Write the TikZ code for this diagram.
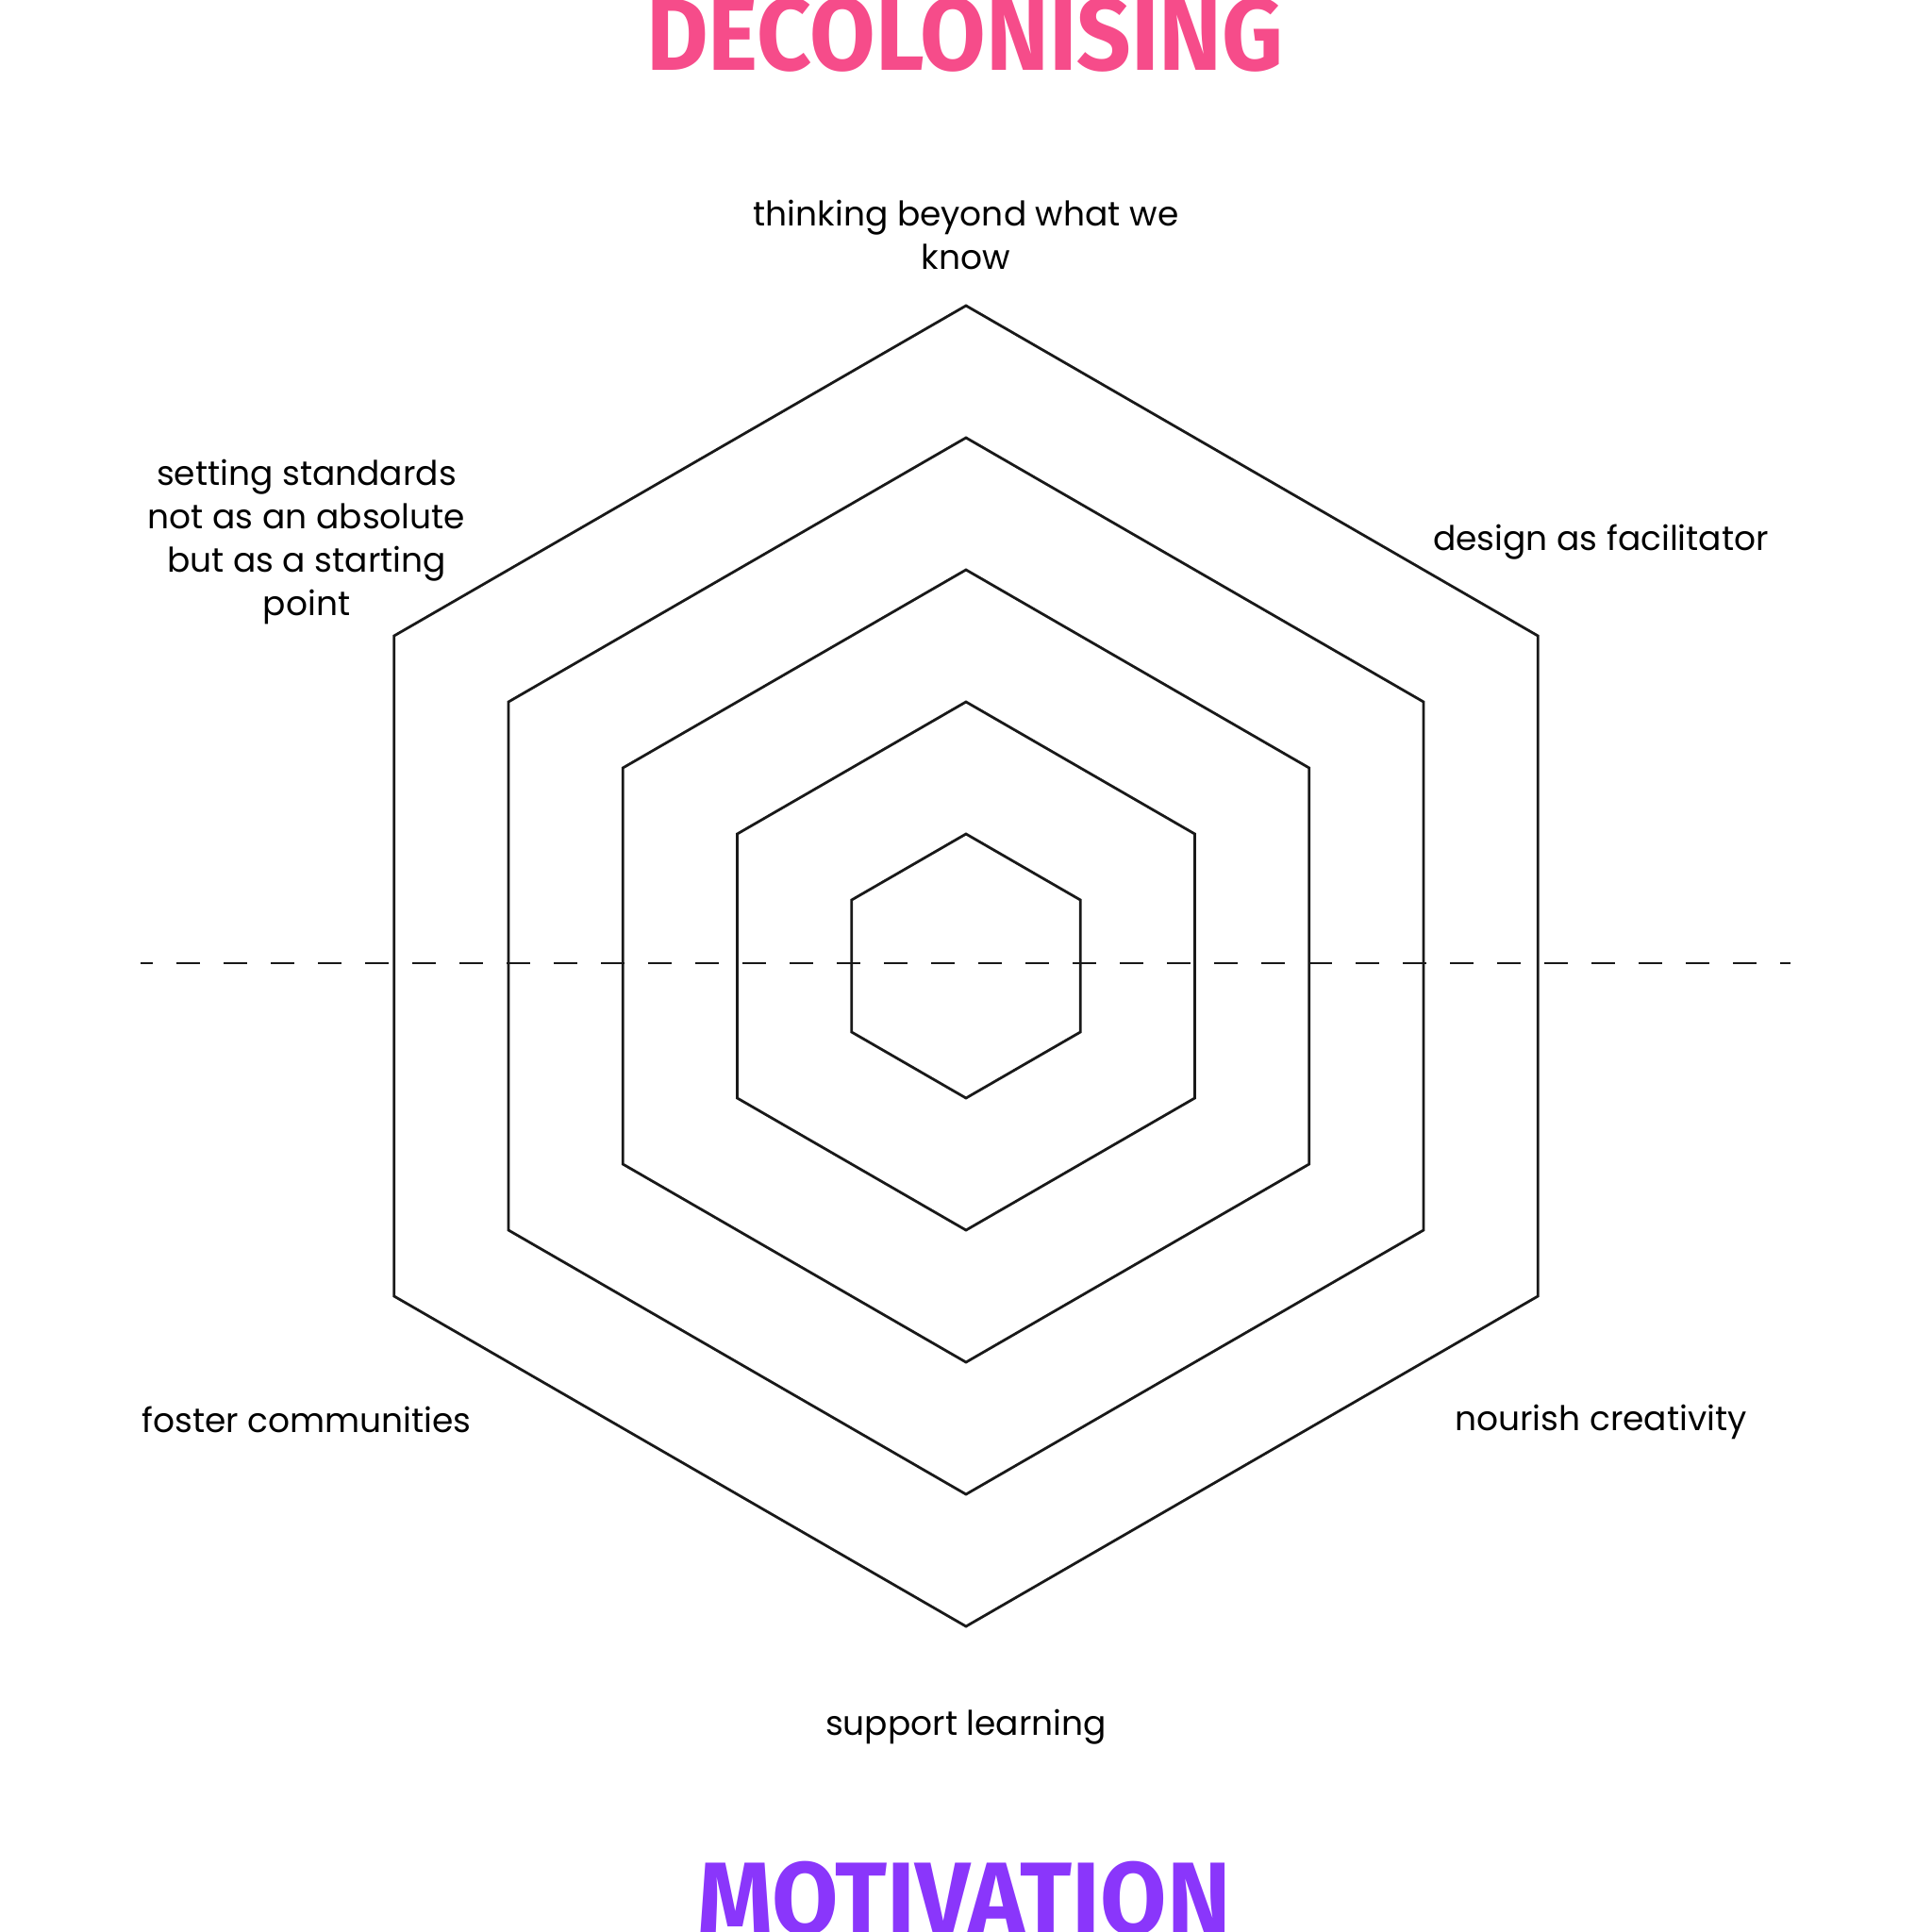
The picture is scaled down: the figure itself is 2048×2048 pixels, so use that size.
\documentclass[tikz,border=0pt]{standalone}
\usepackage{fontspec}
\setmainfont{Poppins}
\newfontfamily\titlefont{Fira Sans}
\usepackage{xcolor}
\usepackage{tikz}
\usetikzlibrary{positioning}
\definecolor{decocolor}{RGB}{246,76,138}
\definecolor{motivcolor}{RGB}{138,54,251}

\tikzset{
  hexline/.style={line width=2.8pt,black!90,line join=miter},
  axisline/.style={line width=2.8pt,black!90,dash pattern=on 25pt off 25pt,dash phase=12pt},
  lbl/.style={align=center,font=\fontsize{36}{46}\selectfont,inner sep=0pt},
  ttl/.style={font=\titlefont\bfseries\fontsize{109}{109}\selectfont,inner sep=0pt}
}

\begin{document}
\begin{tikzpicture}[x=1pt,y=-1pt]
  \useasboundingbox (0,0) rectangle (2048,2048);
  \coordinate (c) at (1024,1024);
  % nested hexagons
  \begin{scope}[shift={(c)}]
    \foreach \r in {140,280,420,560,700}
      \draw[hexline] (90:\r) -- (30:\r) -- (-30:\r) -- (-90:\r) -- (-150:\r) -- (150:\r) -- cycle;
  \end{scope}
  \coordinate (axisL) at (149,1021);
  \coordinate (axisR) at (1898,1021);
  \draw[axisline] (axisL) -- (axisR);
  % titles
  \node[ttl,text=decocolor] (deco) at (1023,37) {\scalebox{0.925}[1]{DECOLONISING}};
  \node[ttl,text=motivcolor] (motiv) at (1022,2013) {\scalebox{0.935}[1]{MOTIVATION}};
  % labels
  \node[lbl] (beyond) at (1024,249) {thinking beyond what we\\know};
  \node[lbl] (standards) at (325,574) {setting standards\\not as an absolute\\but as a starting\\point};
  \node[lbl] (facil) at (1697,575) {design as facilitator};
  \node[lbl] (foster) at (325,1505) {foster communities};
  \node[lbl] (nourish) at (1697,1507) {nourish creativity};
  \node[lbl] (learn) at (1024,1831) {support learning};
\end{tikzpicture}
\end{document}
